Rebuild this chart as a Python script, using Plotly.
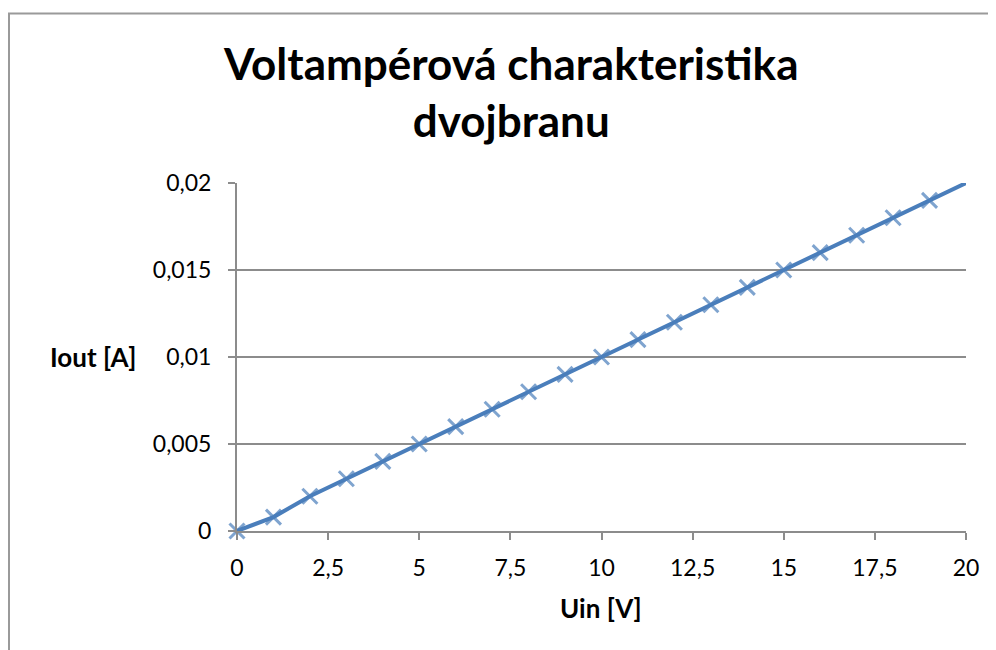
import plotly.graph_objects as go

uin = [0, 1, 2, 3, 4, 5, 6, 7, 8, 9, 10, 11, 12, 13, 14, 15, 16, 17, 18, 19, 20]
iout = [0, 0.0008, 0.002, 0.003, 0.004, 0.005, 0.006, 0.007, 0.008, 0.009, 0.010,
        0.011, 0.012, 0.013, 0.014, 0.015, 0.016, 0.017, 0.018, 0.019, 0.020]
title_text = "Voltampérová charakteristika<br>dvojbranu"
x_title = "Uin [V]"
y_title = "Iout [A]"

# page has an 8px body margin; figure drawn at (8, 8)
OFF = 8
W, H = 996 - OFF, 650 - OFF
L, R, T, B = 237 - OFF, 30, 183 - OFF, 119
pw, ph = W - L - R, H - T - B

blue = "#4a7ebb"
grid = "#8c8c8c"
font = "Lato, Calibri, sans-serif"


def px(xp):
    return (xp - OFF - L) / pw


def py(yp):
    return (H - B - (yp - OFF)) / ph


sizes = [15] * (len(uin) - 1) + [0]

fig = go.Figure()
fig.add_trace(go.Scatter(
    x=uin, y=iout, mode="lines+markers",
    line=dict(color=blue, width=4),
    marker=dict(symbol="x-thin", size=sizes, line=dict(color=blue, width=3), color=blue),
    cliponaxis=False, showlegend=False,
))

fig.update_layout(
    width=W, height=H,
    margin=dict(l=L, r=R, t=T, b=B),
    paper_bgcolor="white", plot_bgcolor="white",
    separators=", ",
    font=dict(family=font, color="black", size=23),
    xaxis=dict(range=[0, 20], dtick=2.5, tick0=0, showgrid=False, zeroline=False,
               showline=True, linecolor=grid, linewidth=2,
               ticks="outside", ticklen=7, tickcolor=grid, tickwidth=2,
               ticklabelstandoff=8,
               tickfont=dict(size=23, family=font)),
    yaxis=dict(range=[0, 0.02], dtick=0.005, tick0=0, showgrid=True, gridcolor=grid,
               gridwidth=1.5, zeroline=False, showline=True, linecolor=grid, linewidth=2,
               ticks="outside", ticklen=7, tickcolor=grid, tickwidth=2,
               ticklabelstandoff=12,
               tickfont=dict(size=23, family=font)),
    annotations=[
        dict(text="<b>" + title_text + "</b>", xref="paper", yref="paper",
             x=px(510), y=py(92), xanchor="center", yanchor="middle",
             showarrow=False, font=dict(size=44, family=font, color="black")),
        dict(text="<b>" + y_title + "</b>", xref="paper", yref="paper",
             x=px(93), y=py(357), xanchor="center", yanchor="middle",
             showarrow=False, font=dict(size=26, family=font, color="black")),
        dict(text="<b>" + x_title + "</b>", xref="paper", yref="paper",
             x=px(601), y=py(608), xanchor="center", yanchor="middle",
             showarrow=False, font=dict(size=26, family=font, color="black")),
    ],
    shapes=[dict(type="rect", xref="paper", yref="paper",
                 x0=px(9), x1=px(1020), y0=py(680), y1=py(13.5),
                 line=dict(color="#9a9a9a", width=2), fillcolor="rgba(0,0,0,0)",
                 layer="below")],
)

fig.write_html("out.html")
